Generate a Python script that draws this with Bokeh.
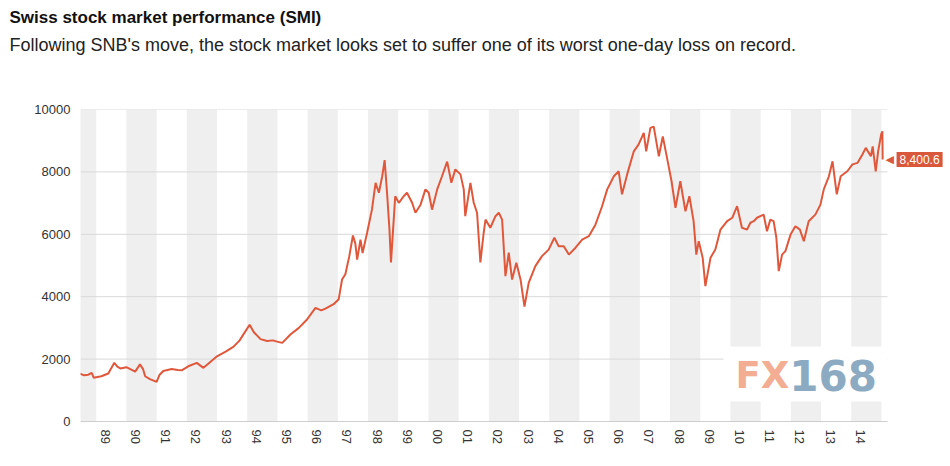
import math
from bokeh.plotting import figure
from bokeh.models import Range1d, FixedTicker, Label, BoxAnnotation, Title
from bokeh.embed import file_html
from bokeh.resources import INLINE

TITLE = "Swiss stock market performance (SMI)"
SUBTITLE = "Following SNB's move, the stock market looks set to suffer one of its worst one-day loss on record."

# time in decimal years, SMI index level
t = [1988.47, 1988.6, 1988.74, 1988.85, 1988.92, 1989.0, 1989.17, 1989.4, 1989.6, 1989.7,
     1989.8, 1990.0, 1990.29, 1990.45, 1990.55, 1990.62, 1990.78, 1991.0, 1991.1, 1991.22,
     1991.5, 1991.7, 1991.83, 1992.05, 1992.33, 1992.55, 1992.72, 1993.0, 1993.3, 1993.55,
     1993.75, 1993.88, 1994.08, 1994.22, 1994.44, 1994.66, 1994.85, 1994.99, 1995.16, 1995.43,
     1995.71, 1995.98, 1996.26, 1996.45, 1996.59, 1996.86, 1997.03, 1997.14, 1997.25, 1997.38,
     1997.5, 1997.58, 1997.64, 1997.75, 1997.82, 1997.97, 1998.13, 1998.25, 1998.36, 1998.47,
     1998.55, 1998.63, 1998.71, 1998.76, 1998.83, 1998.9, 1999.02, 1999.18, 1999.29, 1999.46,
     1999.57, 1999.74, 1999.9, 2000.01, 2000.12, 2000.29, 2000.45, 2000.62, 2000.76, 2000.89,
     2001.06, 2001.17, 2001.22, 2001.39, 2001.5, 2001.61, 2001.72, 2001.83, 2001.89, 2002.05,
     2002.22, 2002.33, 2002.44, 2002.55, 2002.66, 2002.77, 2002.91, 2003.05, 2003.18, 2003.32,
     2003.54, 2003.76, 2003.98, 2004.17, 2004.31, 2004.48, 2004.65, 2004.87, 2005.09, 2005.31,
     2005.53, 2005.75, 2005.92, 2006.14, 2006.3, 2006.41, 2006.58, 2006.8, 2006.96, 2007.13,
     2007.21, 2007.35, 2007.46, 2007.63, 2007.76, 2007.9, 2008.05, 2008.18, 2008.34, 2008.51,
     2008.64, 2008.78, 2008.87, 2008.95, 2009.08, 2009.17, 2009.34, 2009.5, 2009.67, 2009.89,
     2010.06, 2010.22, 2010.38, 2010.55, 2010.66, 2010.77, 2010.88, 2011.1, 2011.21, 2011.32,
     2011.43, 2011.52, 2011.6, 2011.71, 2011.82, 2011.99, 2012.15, 2012.3, 2012.43, 2012.59,
     2012.81, 2012.98, 2013.09, 2013.26, 2013.38, 2013.52, 2013.65, 2013.87, 2014.04, 2014.21,
     2014.37, 2014.48, 2014.65, 2014.71, 2014.81, 2014.89, 2014.99, 2015.03, 2015.04]
smi = [1530, 1480, 1500, 1560, 1400, 1420, 1450, 1540, 1880, 1760,
       1700, 1740, 1600, 1830, 1680, 1450, 1360, 1270, 1500, 1620,
       1680, 1650, 1640, 1770, 1880, 1720, 1860, 2090, 2250, 2400,
       2600, 2800, 3100, 2860, 2640, 2580, 2600, 2560, 2520, 2790,
       3000, 3270, 3640, 3560, 3620, 3760, 3920, 4550, 4720, 5300,
       5960, 5700, 5190, 5830, 5400, 6050, 6790, 7650, 7330, 7860,
       8380, 7330, 6150, 5100, 6150, 7220, 7010, 7220, 7330, 7010,
       6690, 6950, 7440, 7330, 6790, 7440, 7860, 8330, 7650, 8080,
       7920, 7440, 6580, 7650, 7010, 6690, 5100, 6050, 6470, 6210,
       6580, 6690, 6470, 4660, 5410, 4550, 5090, 4550, 3680, 4445,
       4980, 5300, 5510, 5890, 5620, 5620, 5350, 5570, 5830, 5940,
       6310, 6900, 7440, 7860, 8020, 7280, 7920, 8660, 8880, 9250,
       8660, 9410, 9450, 8500, 9140, 8450, 7700, 6850, 7700, 6740,
       7220, 6420, 5350, 5780, 5250, 4340, 5250, 5510, 6150, 6420,
       6530, 6900, 6210, 6150, 6370, 6420, 6530, 6630, 6100, 6470,
       6420, 5890, 4820, 5350, 5460, 5990, 6260, 6150, 5780, 6420,
       6630, 6950, 7440, 7860, 8340, 7280, 7860, 8020, 8240, 8290,
       8560, 8770, 8500, 8820, 8020, 8660, 9200, 9300, 8400.6]
last_value = 8400.6
last_label = "8,400.6"

label_years = list(range(1989, 2015))
tick_labels = ["%02d" % (y % 100) for y in label_years]
band_years = list(range(1988, 2015, 2))
y_ticks = [0, 2000, 4000, 6000, 8000, 10000]

LINE = "#e0583c"
CALLOUT = "#d9573b"
FONT = "Liberation Sans"

# plotted period and layout
X0, X1 = 1988.48, 2015.2
AXIS_W = 807            # px of the dated axis
EXTRA_W = 61            # room on the right for the last-value tag
px_per_year = AXIS_W / (X1 - X0)
x_end = X1 + EXTRA_W / px_per_year

p = figure(frame_width=AXIS_W + EXTRA_W, frame_height=312, output_backend="svg",
           toolbar_location=None, title=None,
           x_range=Range1d(X0, x_end), y_range=Range1d(0, 10000),
           min_border_left=80, min_border_right=0, min_border_bottom=40, min_border_top=0)
p.outline_line_color = None
p.background_fill_color = "white"
p.border_fill_color = "white"

# alternating year bands
p.quad(left=band_years, right=[y + 1 for y in band_years], bottom=0, top=10000,
       fill_color="#efefef", line_color=None)

# horizontal grid and base line, limited to the dated axis
grid_vals = y_ticks[1:]
p.segment(x0=[X0] * len(grid_vals), x1=[X1] * len(grid_vals), y0=grid_vals, y1=grid_vals,
          line_color="#d9d9d9", line_width=1)
p.segment(x0=[X0], x1=[X1], y0=[0], y1=[0], line_color="#a0a0a0", line_width=1)

p.line(t, smi, line_color=LINE, line_width=2)

# watermark
p.add_layout(BoxAnnotation(left=2009.77, right=X1, bottom=640, top=2400,
                           fill_color="white", fill_alpha=1, line_color=None))
p.add_layout(Label(x=2010.17, y=1474, text="FX", text_font="DejaVu Sans", text_font_style="bold",
                   text_font_size="37px", text_color="#f2ad93", text_baseline="middle"))
p.add_layout(Label(x=2011.95, y=1474, text="168", text_font="DejaVu Sans", text_font_style="bold",
                   text_font_size="42px", text_color="#8cabc2", text_baseline="middle"))

# last value callout
p.add_layout(Label(x=2015.5, y=last_value, text=last_label, text_font=FONT,
                   text_font_size="12px", text_color="white", text_baseline="middle",
                   background_fill_color=CALLOUT, padding=3))
p.add_layout(Label(x=2015.41, y=last_value, text="\u25C0", text_font="DejaVu Sans",
                   text_font_size="11px", text_color=CALLOUT, text_baseline="middle",
                   text_align="right"))

# axes
p.xgrid.visible = False
p.ygrid.visible = False
p.yaxis.ticker = FixedTicker(ticks=y_ticks)
p.yaxis.axis_line_color = None
p.yaxis.major_tick_line_color = None
p.yaxis.minor_tick_line_color = None
p.yaxis.major_tick_out = 0
p.yaxis.major_label_standoff = 10
p.yaxis.major_label_text_font = FONT
p.yaxis.major_label_text_font_size = "13px"
p.yaxis.major_label_text_color = "#333333"

p.xaxis.ticker = FixedTicker(ticks=[y + 0.3 for y in label_years])
p.xaxis.major_label_overrides = {y + 0.3: s for y, s in zip(label_years, tick_labels)}
p.xaxis.major_label_orientation = -math.pi / 2
p.xaxis.axis_line_color = None
p.xaxis.major_tick_line_color = None
p.xaxis.minor_tick_line_color = None
p.xaxis.major_tick_out = 0
p.xaxis.major_label_standoff = 8
p.xaxis.major_label_text_font = FONT
p.xaxis.major_label_text_font_size = "13px"
p.xaxis.major_label_text_color = "#333333"

# titles: spacer nearest the plot, then subtitle, then title
p.add_layout(Title(text=" ", text_font_size="1px", standoff=50), "above")
p.add_layout(Title(text=SUBTITLE, text_font=FONT, text_font_size="18px",
                   text_font_style="normal", text_color="#222222", offset=-71,
                   standoff=3), "above")
p.add_layout(Title(text=TITLE, text_font=FONT, text_font_size="17px",
                   text_font_style="bold", text_color="#111111", offset=-71,
                   standoff=10), "above")

open("out.html", "w").write(file_html(p, INLINE))
